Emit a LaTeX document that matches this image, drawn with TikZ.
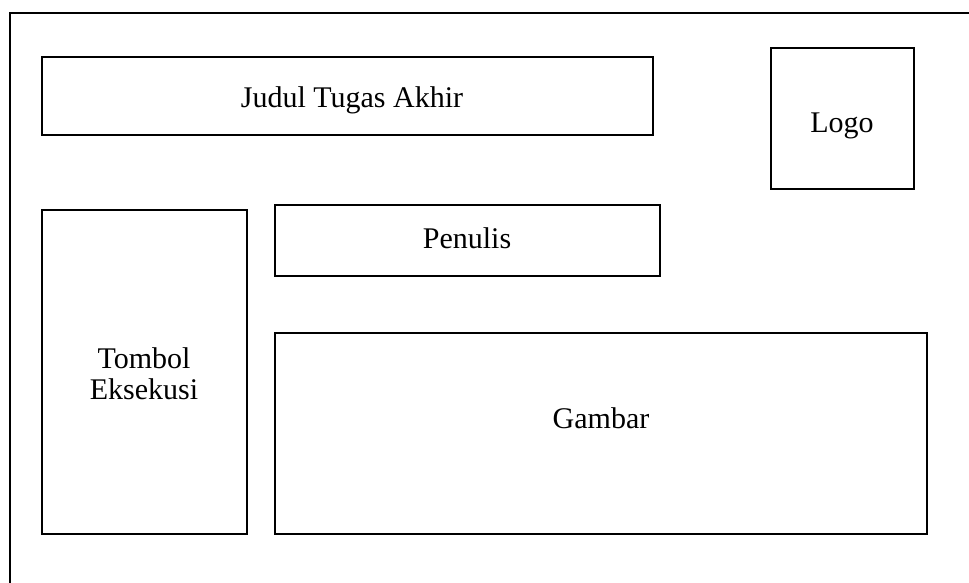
\documentclass[tikz,border=0pt]{standalone}
\usepackage{fontspec}
\setmainfont{Liberation Serif}
\begin{document}
\begin{tikzpicture}[x=1pt,y=-1pt,
  panel/.style={draw=black,line width=2pt},
  caption/.style={inner sep=0pt,anchor=base,font=\fontsize{30}{34}\selectfont}]
\useasboundingbox (0,0) rectangle (969,583);
% page frame (open to the right and bottom)
\draw[panel] (10,583) -- (10,13) -- (969,13);
% layout panels
\draw[panel] (42,57) rectangle (653,135) coordinate (judul);
\draw[panel] (771,48) rectangle (914,189) coordinate (logo);
\draw[panel] (275,205) rectangle (660,276) coordinate (penulis);
\draw[panel] (42,210) rectangle (247,534) coordinate (tombol);
\draw[panel] (275,333) rectangle (927,534) coordinate (gambar);
% captions
\node[caption] (tJudul) at (352,108) {Judul Tugas Akhir};
\node[caption] (tLogo) at (842,133) {Logo};
\node[caption] (tPenulis) at (467,248) {Penulis};
\node[caption] (tTombol) at (144,368) {Tombol};
\node[caption] (tEksekusi) at (144,399) {Eksekusi};
\node[caption] (tGambar) at (601,428) {Gambar};
\end{tikzpicture}
\end{document}
